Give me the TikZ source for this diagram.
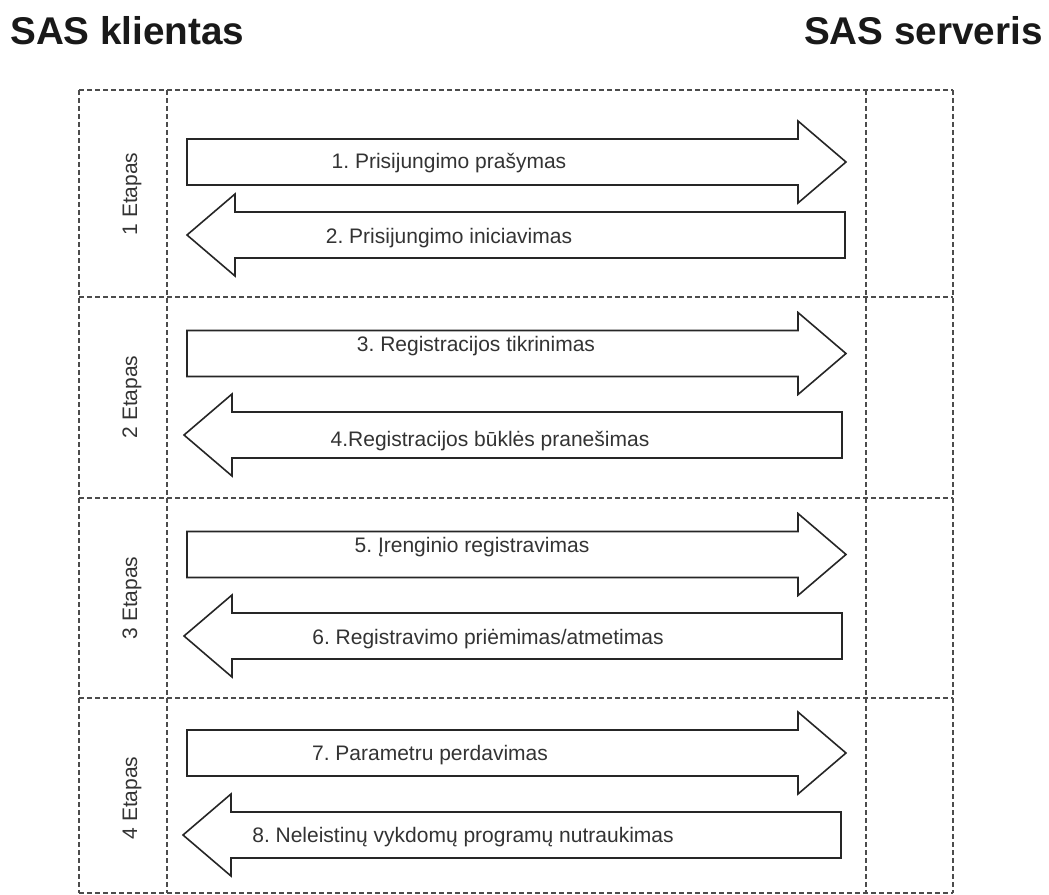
\documentclass[tikz,border=0pt]{standalone}
\usepackage{fontspec}
\setmainfont{Liberation Sans}
\frenchspacing
\begin{document}
\begin{tikzpicture}[x=0.75pt,y=-0.75pt,
  grid/.style={draw=black!70, line width=1.2pt, dash pattern=on 3.6pt off 2.4pt},
  flow/.style={draw=black!85, line width=1.2pt, fill=white, line join=miter},
  lbl/.style={font=\fontsize{15.75}{18}\selectfont, text=black!80, inner sep=0pt},
  title/.style={font=\fontsize{29}{34}\selectfont\bfseries, text=black!90, inner sep=0pt},
  rarrow/.pic={\path[flow] (0,-23) -- (611,-23) -- (611,-41) -- (659,0) -- (611,41) -- (611,23) -- (0,23) -- cycle;},
  larrow/.pic={\path[flow] (0,0) -- (48,-41) -- (48,-23) -- (658,-23) -- (658,23) -- (48,23) -- (48,41) -- cycle;},
]
\useasboundingbox (0,0) rectangle (1049,895);

% headings
\node[title, anchor=base west] (client) at (10,45) {SAS klientas};
\node[title, anchor=base east] (server) at (1043,45) {SAS serveris};

% dashed lane grid
\foreach \gx in {79,167,866,953} \draw[grid] (\gx,90) -- (\gx,893);
\foreach \gy in {90,297,498,698,893} \draw[grid] (79,\gy) -- (953,\gy);

% stage labels
\node[lbl, rotate=90] (st1) at (132,194) {1 Etapas};
\node[lbl, rotate=90] (st2) at (132,397) {2 Etapas};
\node[lbl, rotate=90] (st3) at (132,598) {3 Etapas};
\node[lbl, rotate=90] (st4) at (132,798) {4 Etapas};

% stage 1
\pic at (187,162) {rarrow};
\pic at (187,235) {larrow};
\node[lbl] (m1) at (449,163) {1. Prisijungimo prašymas};
\node[lbl] (m2) at (449,238) {2. Prisijungimo iniciavimas};

% stage 2
\pic at (187,353.5) {rarrow};
\pic at (184,435) {larrow};
\node[lbl] (m3) at (476,346) {3. Registracijos tikrinimas};
\node[lbl] (m4) at (490,441) {4.Registracijos būklės pranešimas};

% stage 3
\pic at (187,554.5) {rarrow};
\pic at (184,636) {larrow};
\node[lbl] (m5) at (472,547) {5. Įrenginio registravimas};
\node[lbl] (m6) at (488,639) {6. Registravimo priėmimas/atmetimas};

% stage 4
\pic at (187,753) {rarrow};
\pic at (183,835) {larrow};
\node[lbl] (m7) at (430,755) {7. Parametru perdavimas};
\node[lbl] (m8) at (463,837) {8. Neleistinų vykdomų programų nutraukimas};
\end{tikzpicture}
\end{document}
